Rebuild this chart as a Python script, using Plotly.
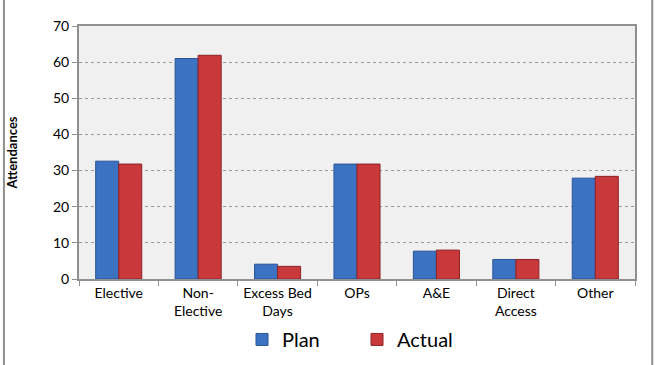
import plotly.graph_objects as go

categories = ["Elective", "Non-<br>Elective", "Excess Bed<br>Days", "OPs", "A&E", "Direct<br>Access", "Other"]
plan = [32.6, 61.0, 4.1, 31.8, 7.7, 5.4, 27.9]
actual = [31.8, 61.9, 3.5, 31.8, 8.0, 5.4, 28.4]

fig = go.Figure()
fig.add_trace(go.Bar(name="Plan", x=categories, y=plan,
                     marker=dict(color="#3b72c2", line=dict(color="#2a5496", width=1))))
fig.add_trace(go.Bar(name="Actual", x=categories, y=actual,
                     marker=dict(color="#c8393b", line=dict(color="#8e2224", width=1))))

fig.update_layout(
    width=655, height=365,
    margin=dict(l=79, r=20, t=26, b=86, autoexpand=False),
    paper_bgcolor="white",
    plot_bgcolor="#f0f0f0",
    barmode="group", bargap=0.42, bargroupgap=0,
    font=dict(family="Lato, Open Sans, sans-serif", size=14, color="black"),
    showlegend=True,
    legend=dict(orientation="h", x=0.5, xanchor="center", yref="container", y=0.07,
                yanchor="middle", font=dict(size=20), itemwidth=30, entrywidth=70,
                traceorder="normal"),
    shapes=[
        dict(type="line", xref="paper", yref="paper", x0=-0.135, x1=-0.135, y0=-0.4, y1=1.2,
             line=dict(color="#909090", width=2)),
        dict(type="line", xref="paper", yref="paper", x0=1.031, x1=1.031, y0=-0.4, y1=1.2,
             line=dict(color="#909090", width=2)),
    ],
)
fig.update_xaxes(showline=True, linecolor="#909090", linewidth=2, mirror=True,
                 ticks="outside", ticklen=5, tickcolor="#909090", tickson="boundaries",
                 tickangle=0, tickfont=dict(size=14))
fig.update_yaxes(range=[0, 70], dtick=10, showline=True, linecolor="#909090", linewidth=2,
                 mirror=True, ticks="outside", ticklen=5, tickcolor="#909090",
                 showgrid=True, gridcolor="#9a9a9a", griddash="dot", gridwidth=1,
                 zeroline=False,
                 title=dict(text="<b>Attendances</b>", font=dict(size=13), standoff=32),
                 tickfont=dict(size=14))

fig.write_html("out.html")
